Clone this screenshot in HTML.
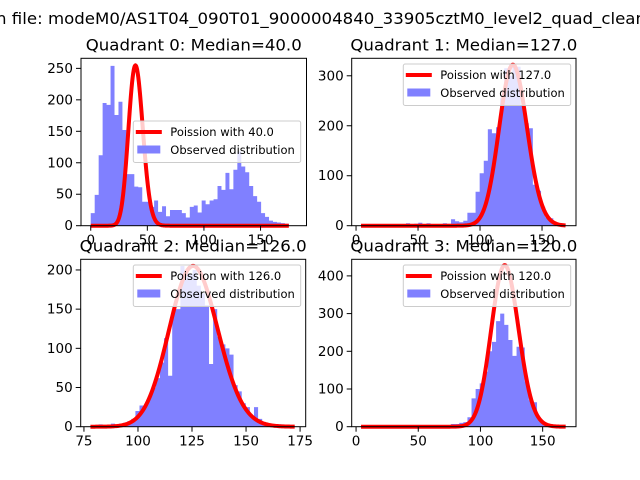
<!DOCTYPE html>
<html><head><meta charset="utf-8"><style>
html,body{margin:0;padding:0;background:#fff;}
svg{display:block;font-family:"DejaVu Sans","Liberation Sans",sans-serif;}
</style></head><body>
<svg id="fig" width="640" height="480" viewBox="0 0 640 480" xmlns="http://www.w3.org/2000/svg">
<rect width="640" height="480" fill="#fff"/>
<text x="-4" y="24" font-size="16" textLength="650" lengthAdjust="spacingAndGlyphs">n file: modeM0/AS1T04_090T01_9000004840_33905cztM0_level2_quad_clean</text>
</svg>
<script>
// ---- data ----
const titles = ["Quadrant 0: Median=40.0","Quadrant 1: Median=127.0","Quadrant 2: Median=126.0","Quadrant 3: Median=120.0"];
const medians = [40, 127, 126, 120];
const curvePeaks = [254, 322, 205, 428];
const binRanges = [[0,175],[4,169],[78,172.6],[4,168.5]];
const q0Counts = [20,49,112,195,192,254,176,197,152,82,82,62,61,38,38,30,40,22,31,15,25,25,25,20,13,30,32,21,40,34,40,42,63,57,84,58,89,118,94,85,63,47,38,20,14,8,6,5,4,3];
const q1Counts = [0,0,0,1,0,3,0,0,3,2,3,5,2,4,6,3,5,0,1,2,5,4,13,9,7,10,26,26,68,105,130,193,185,197,255,315,300,320,318,240,205,195,82,70,38,17,15,5,3,2];
const q2Counts = [0,0,3,1,0,4,1,4,5,7,10,20,27,27,38,50,62,82,113,65,150,150,205,200,195,200,180,170,155,80,150,115,105,100,92,53,45,30,25,12,25,10,5,3,2,3,3,1,0,1];
const q3Counts = [0,0,0,0,0,0,0,0,0,0,0,0,0,0,0,0,0,0,0,1,2,3,7,7,10,12,25,75,100,115,146,200,225,280,300,270,230,188,212,210,120,70,65,20,10,5,3,2,1,0];
const xTickLabels = [["0","50","100","150"],["0","50","100","150"],["75","100","125","150","175"],["0","50","100","150"]];
const yTickLabels = [["0","50","100","150","200","250"],["0","100","200","300"],["0","50","100","150","200"],["0","100","200","300","400"]];
const legendLabels = [["Poission with 40.0","Observed distribution"],["Poission with 127.0","Observed distribution"],["Poission with 126.0","Observed distribution"],["Poission with 120.0","Observed distribution"]];
const allCounts = [q0Counts,q1Counts,q2Counts,q3Counts];

// ---- layout (not data) ----
const boxes = [
 {x0:81,x1:306.5,y0:58.3,y1:225.7,xlim:[-8.6,190.6],ylim:[0,266],leg:[133.3,121],tw:216},
 {x0:351.7,x1:576,y0:58.3,y1:225.7,xlim:[-3.5,177.4],ylim:[0,335],leg:[403.3,64],tw:227},
 {x0:80.7,x1:305.7,y0:259.3,y1:426.7,xlim:[73.5,177.6],ylim:[0,213.6],leg:[133.3,265],tw:227},
 {x0:351.7,x1:576,y0:259.3,y1:426.7,xlim:[-3.5,176.8],ylim:[0,444],leg:[403.3,265],tw:227}
];
const NS="http://www.w3.org/2000/svg";
const svg=document.getElementById('fig');
function mk(tag,attrs,parent){const e=document.createElementNS(NS,tag);for(const k in attrs)e.setAttribute(k,attrs[k]);(parent||svg).appendChild(e);return e;}
function lgamma(z){
  if(z<7){let p=1;while(z<7){p*=z;z+=1;}return lgamma(z)-Math.log(p);}
  return (z-0.5)*Math.log(z)-z+0.5*Math.log(2*Math.PI)+1/(12*z)-1/(360*z*z*z);
}
function logPois(k,mu){return k*Math.log(mu)-mu-lgamma(k+1);}

for(let p=0;p<4;p++){
  const b=boxes[p];
  const g=mk('g',{});
  
  
  const sx=v=>b.x0+(v-b.xlim[0])/(b.xlim[1]-b.xlim[0])*(b.x1-b.x0);
  const sy=v=>b.y1-(v-b.ylim[0])/(b.ylim[1]-b.ylim[0])*(b.y1-b.y0);
  const counts=allCounts[p], r=binRanges[p], w=(r[1]-r[0])/counts.length;
  let d='';
  counts.forEach((c,i)=>{
    if(c<=0)return;
    const xa=sx(r[0]+i*w), xb=sx(r[0]+(i+1)*w), yt=sy(c);
    d+=`M${xa.toFixed(2)},${b.y1}L${xa.toFixed(2)},${yt.toFixed(2)}L${xb.toFixed(2)},${yt.toFixed(2)}L${xb.toFixed(2)},${b.y1}Z`;
  });
  const bars=mk('path',{d:d,fill:'#8080ff',stroke:'none'},g);
  
  
  const mu=medians[p], peak=curvePeaks[p], lp=logPois(Math.floor(mu),mu);
  let pts=[];
  for(let x=r[0];x<=r[1]+0.001;x+=0.5){
    const v=peak*Math.exp(logPois(x,mu)-lp);
    pts.push(sx(x).toFixed(2)+','+sy(v).toFixed(2));
  }
  const curve=mk('polyline',{points:pts.join(' '),fill:'none',stroke:'#ff0000','stroke-width':4,'stroke-linejoin':'round'},g);
  
  
  const fr=mk('rect',{x:b.x0,y:b.y0,width:b.x1-b.x0,height:b.y1-b.y0,fill:'none',stroke:'#000','stroke-width':1},g);
  
  
  xTickLabels[p].forEach(t=>{
    const x=sx(parseFloat(t));
    const tk=mk('line',{x1:x,x2:x,y1:b.y1,y2:b.y1+5,stroke:'#000','stroke-width':1},g);
    
    
    const tx=mk('text',{x:x,y:b.y1+19,'font-size':13.5,'text-anchor':'middle'},g);
    tx.textContent=t;
    
    
  });
  yTickLabels[p].forEach(t=>{
    const y=sy(parseFloat(t));
    const tk=mk('line',{x1:b.x0-5,x2:b.x0,y1:y,y2:y,stroke:'#000','stroke-width':1},g);
    
    
    const tx=mk('text',{x:b.x0-8,y:y+4.5,'font-size':13.5,'text-anchor':'end'},g);
    tx.textContent=t;
    
    
  });
  const tt=mk('text',{x:(b.x0+b.x1)/2,y:b.y0-8,'font-size':16,'text-anchor':'middle',textLength:b.tw,lengthAdjust:'spacingAndGlyphs'},g);
  tt.textContent=titles[p];
  
  
  const L=b.leg[0],T=b.leg[1];
  const lg=mk('g',{},g);
  
  
  mk('rect',{x:L,y:T,width:167.4,height:41.5,rx:2,fill:'#fff','fill-opacity':0.8,stroke:'#cccccc','stroke-width':1},lg);
  mk('line',{x1:L+2.5,x2:L+28.5,y1:T+11,y2:T+11,stroke:'#ff0000','stroke-width':4},lg);
  mk('rect',{x:L+4,y:T+24.5,width:23,height:8,fill:'#8080ff'},lg);
  const t1=mk('text',{x:L+37,y:T+15,'font-size':11.5},lg);
  t1.textContent=legendLabels[p][0];
  
  
  const t2=mk('text',{x:L+37,y:T+33,'font-size':11.5},lg);
  t2.textContent=legendLabels[p][1];
  
  
}
</script>
</body></html>
